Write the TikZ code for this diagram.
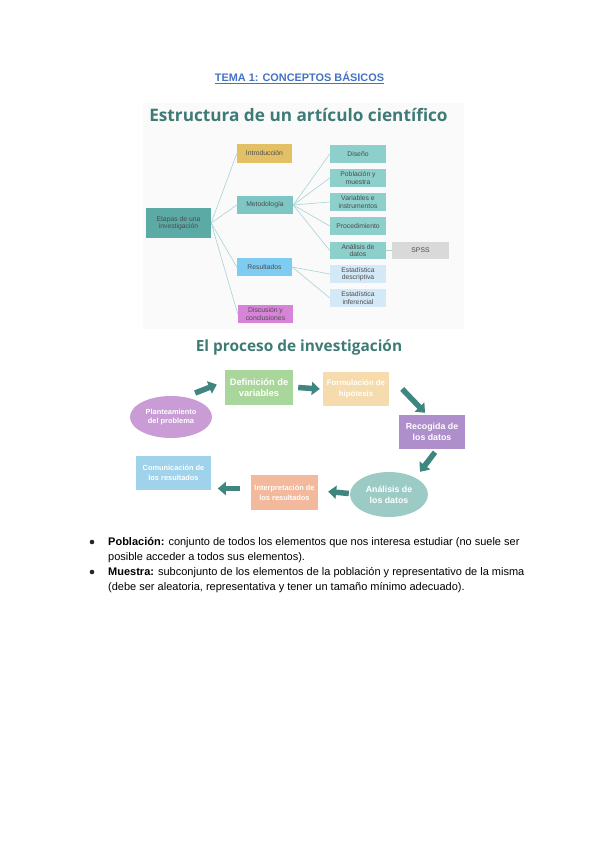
\documentclass[tikz,border=0pt]{standalone}
\usepackage{fontspec}
\setmainfont{Liberation Sans}
\newfontfamily\headfont{Open Sans}
\usetikzlibrary{arrows.meta,shapes.geometric}
\definecolor{paper}{HTML}{FAFAFA}
\definecolor{headblue}{HTML}{4472C4}
\definecolor{titleteal}{HTML}{3F7B76}
\definecolor{linkteal}{HTML}{A9D3D1}
\definecolor{arrowteal}{HTML}{3F8580}
\definecolor{rootteal}{HTML}{5BAAA6}
\definecolor{introgold}{HTML}{E3C065}
\definecolor{metoteal}{HTML}{7DC6C3}
\definecolor{resulblue}{HTML}{7FCCF2}
\definecolor{discpink}{HTML}{D783D8}
\definecolor{leafteal}{HTML}{8CCFCB}
\definecolor{leafblue}{HTML}{D4E9F7}
\definecolor{spssgray}{HTML}{D9D9D9}
\definecolor{defgreen}{HTML}{A9D69A}
\definecolor{formtan}{HTML}{F5DBAE}
\definecolor{plantlila}{HTML}{C99CD6}
\definecolor{recoglila}{HTML}{AE8ECB}
\definecolor{anateal}{HTML}{9CCBC6}
\definecolor{interpsalmon}{HTML}{F3B99D}
\definecolor{commblue}{HTML}{9FD2EB}

\begin{document}
\begin{tikzpicture}[x=1pt,y=-1pt,
    every node/.style={font=\fontsize{6.8}{7.2}\selectfont,text=black!70},
    tree/.style={fill=#1,minimum width=56pt,minimum height=18pt,align=center,inner sep=1pt},
    branch/.style={draw=linkteal,line width=0.6pt},
    stage/.style={fill=#1,text=white,font=\bfseries\fontsize{8}{9.5}\selectfont,
        align=center,minimum width=67pt,minimum height=35pt,inner sep=1pt},
    oval/.style={stage=#1,ellipse},
    flow/.style={draw=arrowteal,line width=5.5pt,-{Triangle[length=8pt,width=13pt]}}]
    \useasboundingbox (0,0) rectangle (600,848);
    \fill[white] (0,0) rectangle (600,848);
    \fill[paper] (143,103) rectangle (464,329);
    % headings
    \node[font=\bfseries\fontsize{10.9}{12}\selectfont,text=headblue] (tema) at (299.5,78)
        {\underline{TEMA 1: CONCEPTOS BÁSICOS}};
    \node[font=\headfont\bfseries\fontsize{17.2}{20}\selectfont,text=titleteal] (titulo) at (298.5,115)
        {Estructura de un artículo científico};
    % tree of the article
    \node[tree=rootteal,minimum width=65pt,minimum height=30pt] (etapas) at (178.5,223)
        {Etapas de una\\investigación};
    \node[tree=introgold,minimum width=55pt,minimum height=19pt] (intro) at (264.5,153.5) {Introducción};
    \node[tree=metoteal] (meto) at (265,205) {Metodología};
    \node[tree=resulblue,minimum width=55pt] (resul) at (264.5,267) {Resultados};
    \node[tree=discpink,minimum width=55pt] (disc) at (265.5,314) {Discusión y\\conclusiones};
    \node[tree=leafteal] (diseno) at (358,154) {Diseño};
    \node[tree=leafteal] (pobl) at (358,178) {Población y\\muestra};
    \node[tree=leafteal] (vari) at (358,202) {Variables e\\instrumentos};
    \node[tree=leafteal] (proc) at (358,226) {Procedimiento};
    \node[tree=leafteal,minimum height=17pt] (anal) at (358,250.5) {Análisis de\\datos};
    \node[tree=leafblue] (edesc) at (358,274) {Estadística\\descriptiva};
    \node[tree=leafblue] (einf) at (358,298) {Estadística\\inferencial};
    \node[tree=spssgray,minimum width=57pt,minimum height=17pt] (spss) at (420.5,250.5) {SPSS};
    \foreach \kid in {intro,meto,resul,disc}
        \draw[branch] (etapas.east) -- (\kid.west);
    \foreach \kid in {diseno,pobl,vari,proc,anal}
        \draw[branch] (meto.east) -- (\kid.west);
    \foreach \kid in {edesc,einf}
        \draw[branch] (resul.east) -- (\kid.west);
    \draw[branch] (anal) -- (spss);
    % research process
    \node[font=\headfont\bfseries\fontsize{15.4}{17}\selectfont,text=titleteal] (proceso) at (299,347)
        {El proceso de investigación};
    \node[stage=defgreen,minimum width=68pt,font=\bfseries\fontsize{9.3}{11.5}\selectfont] (def) at (259,387.5) {Definición de\\variables};
    \node[stage=formtan,minimum width=66pt,minimum height=34pt,font=\bfseries\fontsize{7.8}{10.5}\selectfont] (form) at (356,389) {Formulación de\\hipótesis};
    \node[oval=plantlila,minimum width=82pt,minimum height=42pt,font=\bfseries\fontsize{7.4}{9}\selectfont] (plant) at (171,417) {Planteamiento\\del problema};
    \node[stage=recoglila,minimum width=66pt,minimum height=34pt,font=\bfseries\fontsize{8.8}{11}\selectfont] (recog) at (432,432) {Recogida de\\los datos};
    \node[oval=anateal,minimum width=78pt,minimum height=45pt,font=\bfseries\fontsize{8.8}{11}\selectfont] (ana) at (389,494.5) {Análisis de\\los datos};
    \node[stage=interpsalmon,font=\bfseries\fontsize{7.4}{10}\selectfont] (interp) at (284.5,492.5) {Interpretación de\\los resultados};
    \node[stage=commblue,minimum width=75pt,minimum height=34pt,font=\bfseries\fontsize{7.4}{10}\selectfont] (comm) at (173.5,473) {Comunicación de\\los resultados};
    \draw[flow] ([xshift=-5pt,yshift=9pt]plant.north east) -- ([xshift=-8pt,yshift=3pt]def.west);
    \draw[flow] ([xshift=5pt]def.east) -- ([xshift=-3pt]form.west);
    \draw[flow] ([xshift=13pt]form.east) -- ([xshift=-7pt,yshift=2pt]recog.north);
    \draw[flow] ([xshift=3pt,yshift=-3pt]recog.south) -- ([xshift=31pt]ana.north);
    \draw[flow] ([xshift=-1pt,yshift=1pt]ana.west) -- ([xshift=10pt,yshift=1pt]interp.east);
    \draw[flow] ([xshift=-11pt,yshift=4pt]interp.west) -- ++(-22pt,0);
    % definitions
    \fill[black!85] (92,542) circle (2.3pt);
    \fill[black!85] (92,572) circle (2.3pt);
    \node[font=\fontsize{11}{15}\selectfont,text=black,anchor=north west,align=left,inner sep=0pt] (defs) at (108,537.5)
        {\textbf{Población:} conjunto de todos los elementos que nos interesa estudiar (no suele ser\\
         posible acceder a todos sus elementos).\\
         \textbf{Muestra:} subconjunto de los elementos de la población y representativo de la misma\\
         (debe ser aleatoria, representativa y tener un tamaño mínimo adecuado).};
\end{tikzpicture}
\end{document}
